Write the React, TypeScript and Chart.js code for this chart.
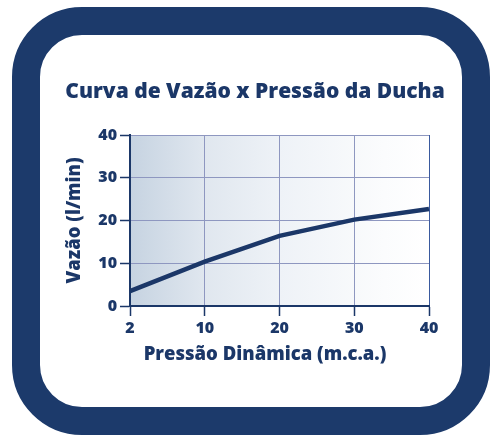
import React, { useEffect, useRef } from "react";
import { Chart, registerables } from "chart.js";

Chart.register(...registerables);

// Pressure (m.c.a.) categories and flow (l/min) readings
const pressureLabels = ["2", "10", "20", "30", "40"];
const flowValues = [3.5, 10.4, 16.4, 20.2, 22.7];
const flowTicks = [0, 10, 20, 30, 40];

const chartTitle = "Curva de Vazão x Pressão da Ducha";
const xAxisTitle = "Pressão Dinâmica (m.c.a.)";
const yAxisTitle = "Vazão (l/min)";

const NAVY = "#1b3768";
const GRID = "#8e97c0";
const FONT = "'Open Sans', 'DejaVu Sans', sans-serif";
const HEAVY = 800;

// Soft blue wash across the plotting area, fading out to the right
const areaWash = {
  id: "areaWash",
  beforeDraw(chart: any) {
    const { ctx, chartArea } = chart;
    if (!chartArea) return;
    const g = ctx.createLinearGradient(chartArea.left, 0, chartArea.right, 0);
    g.addColorStop(0, "#c6d3e1");
    g.addColorStop(0.25, "#e0e7ef");
    g.addColorStop(0.5, "#eef2f7");
    g.addColorStop(0.85, "#fbfcfd");
    g.addColorStop(1, "#ffffff");
    ctx.save();
    ctx.fillStyle = g;
    ctx.fillRect(chartArea.left, chartArea.top, chartArea.right - chartArea.left, chartArea.bottom - chartArea.top);
    ctx.restore();
  },
};

// Heading above the plot and the caption under the x axis
const captions = {
  id: "captions",
  afterDraw(chart: any, _args: any, opts: any) {
    const { ctx } = chart;
    ctx.save();
    ctx.fillStyle = NAVY;
    ctx.textAlign = "center";
    ctx.textBaseline = "middle";
    ctx.font = `${HEAVY} ${opts.titleSize}px ${FONT}`;
    ctx.fillText(opts.title, opts.titleX, opts.titleY);
    ctx.font = `${HEAVY} ${opts.xSize}px ${FONT}`;
    ctx.fillText(opts.xTitle, opts.xTitleX, opts.xTitleY);
    ctx.restore();
  },
};

export default function App() {
  const canvasRef = useRef<HTMLCanvasElement | null>(null);

  useEffect(() => {
    if (!canvasRef.current) return;
    const chart = new Chart(canvasRef.current, {
      type: "line",
      data: {
        labels: pressureLabels,
        datasets: [
          {
            data: flowValues,
            borderColor: NAVY,
            borderWidth: 4.5,
            pointRadius: 0,
            tension: 0,
            fill: false,
          },
        ],
      },
      plugins: [areaWash, captions],
      options: {
        animation: false,
        responsive: false,
        layout: { padding: { top: 135, right: 71, bottom: 0, left: 0 } },
        plugins: {
          legend: { display: false },
          tooltip: { enabled: false },
          title: { display: false },
          captions: {
            title: chartTitle,
            titleSize: 21,
            titleX: 255,
            titleY: 92,
            xTitle: xAxisTitle,
            xSize: 18.5,
            xTitleX: 265,
            xTitleY: 355,
          },
        } as any,
        scales: {
          x: {
            type: "category",
            offset: false,
            afterFit(scale: any) {
              scale.height = 134;
            },
            grid: {
              offset: false,
              color: (c: any) => (c.index === pressureLabels.length - 1 ? "#3a5a9e" : GRID),
              lineWidth: 1,
              tickColor: NAVY,
              tickLength: 10,
              tickWidth: 1.5,
            },
            border: { color: NAVY, width: 2 },
            ticks: {
              color: NAVY,
              padding: 3,
              maxRotation: 0,
              font: { family: FONT, size: 16, weight: HEAVY },
            },
          },
          y: {
            min: 0,
            max: 40,
            afterFit(scale: any) {
              scale.width = 130;
            },
            afterBuildTicks(scale: any) {
              scale.ticks = flowTicks.map((v) => ({ value: v }));
            },
            grid: {
              color: GRID,
              lineWidth: 1,
              tickColor: NAVY,
              tickLength: 10,
              tickWidth: 1.5,
            },
            border: { color: NAVY, width: 2 },
            ticks: {
              color: NAVY,
              padding: 3,
              font: { family: FONT, size: 16, weight: HEAVY },
            },
            title: {
              display: true,
              text: yAxisTitle,
              color: NAVY,
              padding: { top: 64, bottom: 0 },
              font: { family: FONT, size: 18.5, weight: HEAVY },
            },
          },
        },
      } as any,
    });
    return () => chart.destroy();
  }, []);

  return (
    <div
      style={{
        position: "fixed",
        left: 0,
        top: 0,
        width: 500,
        height: 440,
        background: "#ffffff",
        overflow: "hidden",
      }}
    >
      <div
        style={{
          position: "absolute",
          left: 12,
          top: 7,
          width: 478,
          height: 428,
          boxSizing: "border-box",
          border: "28px solid #1c3a6b",
          borderRadius: 70,
        }}
      />
      <canvas
        ref={canvasRef}
        width={500}
        height={440}
        style={{ position: "absolute", left: 0, top: 0, width: 500, height: 440 }}
      />
    </div>
  );
}
